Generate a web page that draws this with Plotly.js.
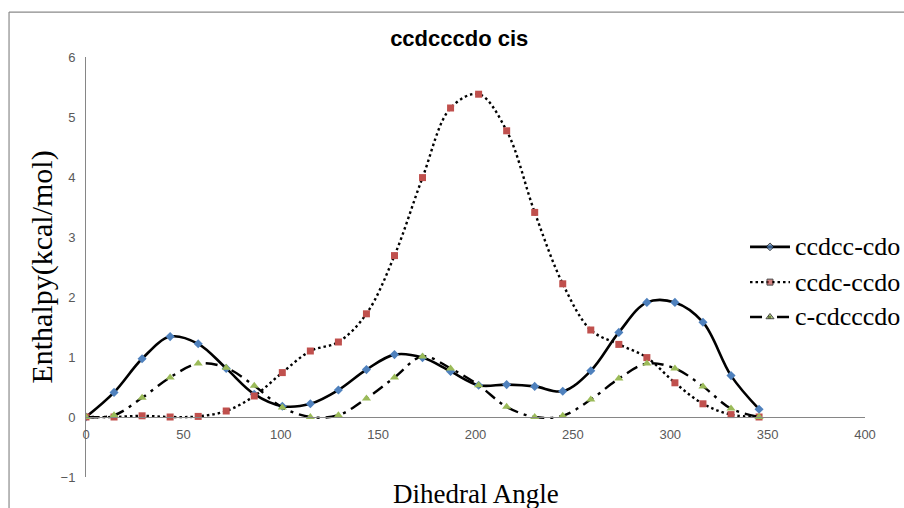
<!DOCTYPE html>
<html>
<head>
<meta charset="utf-8">
<script src="https://cdn.plot.ly/plotly-3.0.1.min.js"></script>
<style>
  html, body { margin: 0; padding: 0; background: #ffffff; }
  #chart { width: 904px; height: 508px; }
</style>
</head>
<body>
<div id="chart"></div>
<script>
// Dihedral scan angles (degrees)
const dihedralAngle = [0, 14.4, 28.8, 43.2, 57.6, 72, 86.4, 100.8, 115.2, 129.6, 144, 158.4,
  172.8, 187.2, 201.6, 216, 230.4, 244.8, 259.2, 273.6, 288, 302.4, 316.8, 331.2, 345.6];

// Relative enthalpy (kcal/mol) for each rotor
const ccdccCdo = [0, 0.41, 0.97, 1.34, 1.22, 0.81, 0.38, 0.18, 0.22, 0.45, 0.79, 1.04,
  0.99, 0.76, 0.53, 0.54, 0.51, 0.43, 0.77, 1.41, 1.91, 1.91, 1.58, 0.69, 0.13];
const ccdcCcdo = [0, 0.0, 0.02, 0.0, 0.01, 0.1, 0.35, 0.74, 1.1, 1.25, 1.72, 2.69,
  3.99, 5.15, 5.38, 4.77, 3.41, 2.22, 1.45, 1.21, 0.99, 0.57, 0.22, 0.04, 0];
const cCdcccdo = [0, 0.03, 0.32, 0.66, 0.89, 0.82, 0.52, 0.16, 0.0, 0.03, 0.31, 0.66,
  1.01, 0.81, 0.53, 0.17, 0.0, 0.02, 0.29, 0.64, 0.89, 0.81, 0.51, 0.14, 0];

const seriesNames = ['ccdcc-cdo', 'ccdc-ccdo', 'c-cdcccdo'];
const xTickValues = [0, 50, 100, 150, 200, 250, 300, 350, 400];
const yTickValues = [-1, 0, 1, 2, 3, 4, 5, 6];

const serif = 'Liberation Serif, Times New Roman, serif';
const sans = 'Liberation Sans, Arial, sans-serif';

// per-series styling
const styles = [
  { line: { color: '#000000', width: 2.6 }, marker: { symbol: 'diamond', size: 7, color: '#4F81BD' } },
  { line: { color: '#000000', width: 2.4, dash: '2.5px,3px' }, marker: { symbol: 'square', size: 7, color: '#C0504D' } },
  { line: { color: '#000000', width: 2.4, dash: '12px,6px,3px,6px' }, marker: { symbol: 'triangle-up', size: 8, color: '#9BBB59' } }
];
const seriesValues = [ccdccCdo, ccdcCcdo, cCdcccdo];

const traces = seriesValues.map((vals, i) => ({
  x: dihedralAngle, y: vals, name: seriesNames[i],
  mode: 'lines+markers', type: 'scatter', showlegend: false,
  line: Object.assign({ shape: 'spline', smoothing: 1 }, styles[i].line),
  marker: styles[i].marker
}));

// legend key: row heights in paper units, drawn on a small companion axis pair
const legendRows = [0.548, 0.464, 0.381];
seriesNames.forEach((name, i) => {
  traces.push({
    x: [0, 0.5, 1], y: [legendRows[i], legendRows[i], legendRows[i]],
    xaxis: 'x2', yaxis: 'y2', mode: 'lines+markers', type: 'scatter', showlegend: false,
    hoverinfo: 'skip', cliponaxis: false,
    line: styles[i].line,
    marker: Object.assign({}, styles[i].marker, { size: [0, styles[i].marker.size - 1, 0] })
  });
});

const yMin = -1, yMax = 6;

const layout = {
  width: 904, height: 508,
  margin: { l: 86, r: 39, t: 57, b: 31 },
  paper_bgcolor: '#ffffff', plot_bgcolor: 'rgba(0,0,0,0)',
  showlegend: false,
  title: {
    text: '<b>ccdcccdo cis</b>',
    font: { family: sans, size: 22, color: '#000000' },
    x: 0.508, xanchor: 'center', y: 0.925, yanchor: 'middle', yref: 'container'
  },
  xaxis: {
    range: [0, 400], tickvals: xTickValues, ticks: '',
    showgrid: false, zeroline: false,
    showline: true, linecolor: '#868686', linewidth: 1,
    anchor: 'free', position: (0 - yMin) / (yMax - yMin),
    ticklabelstandoff: 5,
    tickfont: { family: sans, size: 13, color: '#595959' },
    fixedrange: true
  },
  yaxis: {
    range: [yMin, yMax], tickvals: yTickValues, ticks: '',
    showgrid: false, zeroline: false,
    showline: true, linecolor: '#868686', linewidth: 1,
    ticklabelstandoff: 7,
    tickfont: { family: sans, size: 13, color: '#595959' },
    fixedrange: true
  },
  xaxis2: {
    domain: [0.8524, 0.9037], range: [0, 1], anchor: 'y2',
    visible: false, fixedrange: true
  },
  yaxis2: {
    domain: [0, 1], range: [0, 1], anchor: 'x2',
    visible: false, fixedrange: true
  },
  annotations: [
    {
      text: 'Dihedral Angle', xref: 'paper', yref: 'paper',
      x: 0.5, y: -0.04, xanchor: 'center', yanchor: 'middle', showarrow: false,
      font: { family: serif, size: 27, color: '#000000' }
    },
    {
      text: 'Enthalpy(kcal/mol)', xref: 'paper', yref: 'paper', textangle: -90,
      x: -0.057, y: 0.5, xanchor: 'center', yanchor: 'middle', showarrow: false,
      font: { family: serif, size: 30, color: '#000000' }
    }
  ].concat(seriesNames.map((name, i) => ({
    text: name, xref: 'paper', yref: 'paper',
    x: 0.908, y: legendRows[i], xanchor: 'left', yanchor: 'middle', showarrow: false,
    font: { family: serif, size: 26, color: '#000000' }
  }))),
  shapes: [
    // outer chart frame (left and top edges)
    { type: 'line', xref: 'paper', yref: 'paper', x0: -0.0988, x1: -0.0988, y0: -0.2, y1: 1.107,
      line: { color: '#8a8a8a', width: 1.2 } },
    { type: 'line', xref: 'paper', yref: 'paper', x0: -0.0988, x1: 1.2, y0: 1.107, y1: 1.107,
      line: { color: '#8a8a8a', width: 1.2 } }
  ]
};

Plotly.newPlot('chart', traces, layout, { displayModeBar: false, staticPlot: true });
</script>
</body>
</html>
